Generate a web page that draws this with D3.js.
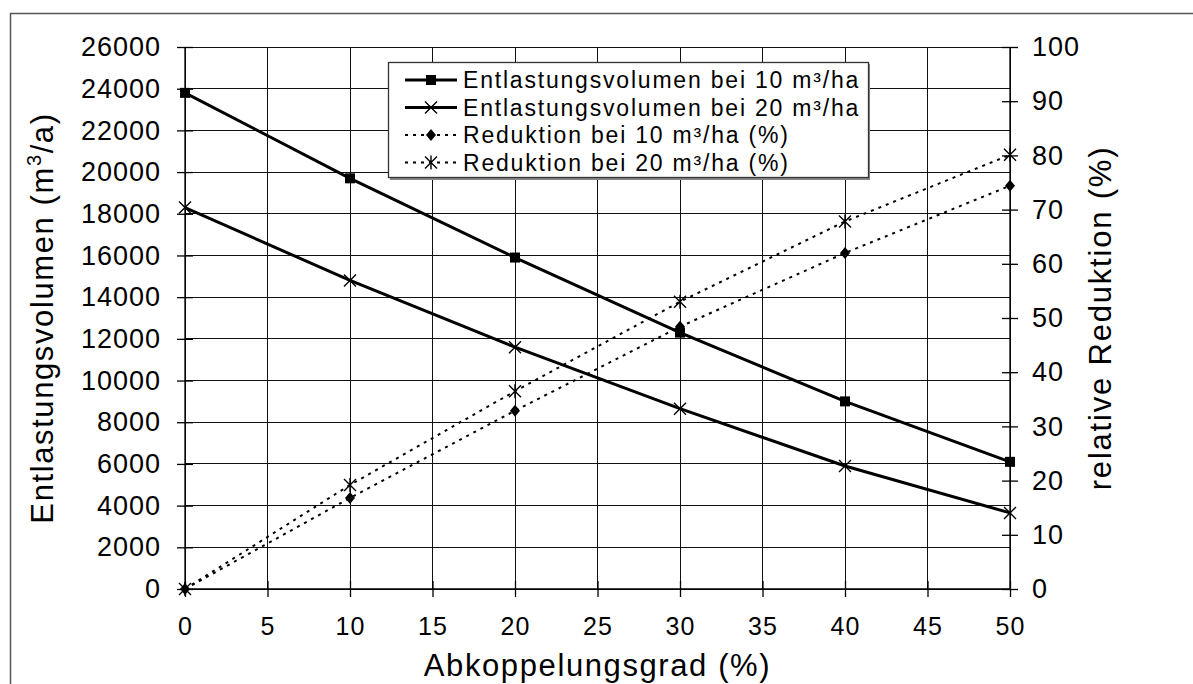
<!DOCTYPE html>
<html>
<head>
<meta charset="utf-8">
<script src="https://cdn.jsdelivr.net/npm/d3@7"></script>
<style>
  html, body { margin: 0; padding: 0; background: #fff; }
  svg { display: block; font-family: "Liberation Sans", Arial, sans-serif; }
</style>
</head>
<body>
<svg id="chart" width="1193" height="684"></svg>
<script>
// Abkoppelungsgrad (%) on the x axis
const abkoppelung = [0, 10, 20, 30, 40, 50];
// Entlastungsvolumen (m³/a)
const vol10 = [23800, 19700, 15900, 12300, 9000, 6100];
const vol20 = [18300, 14800, 11600, 8650, 5900, 3650];
// relative Reduktion (%)
const red10 = [0, 16.8, 32.9, 48.4, 62.0, 74.4];
const red20 = [0, 19.2, 36.5, 53.0, 67.8, 80.1];

const xTicks = [0, 5, 10, 15, 20, 25, 30, 35, 40, 45, 50];
const yLeftTicks = [0, 2000, 4000, 6000, 8000, 10000, 12000, 14000, 16000, 18000, 20000, 22000, 24000, 26000];
const yRightTicks = [0, 10, 20, 30, 40, 50, 60, 70, 80, 90, 100];

const legendLabels = [
  "Entlastungsvolumen bei 10 m³/ha",
  "Entlastungsvolumen bei 20 m³/ha",
  "Reduktion bei 10 m³/ha (%)",
  "Reduktion bei 20 m³/ha (%)"
];

const svg = d3.select("#chart");
const pLeft = 185, pRight = 1010, pTop = 47, pBottom = 589;

const x = d3.scaleLinear().domain([0, 50]).range([pLeft, pRight]);
const yL = d3.scaleLinear().domain([0, 26000]).range([pBottom, pTop]);
const yR = d3.scaleLinear().domain([0, 100]).range([pBottom, pTop]);

// outer frame
svg.append("rect")
  .attr("x", 10.5).attr("y", 13.5)
  .attr("width", 1200).attr("height", 700)
  .attr("fill", "none").attr("stroke", "#555").attr("stroke-width", 1.5);

// grid
const grid = svg.append("g").attr("stroke", "#111").attr("stroke-width", 1).attr("shape-rendering", "crispEdges");
grid.selectAll("line.v").data(xTicks).join("line").attr("class", "v")
  .attr("x1", d => x(d)).attr("x2", d => x(d))
  .attr("y1", pTop).attr("y2", pBottom);
grid.selectAll("line.h").data(yLeftTicks).join("line").attr("class", "h")
  .attr("x1", pLeft).attr("x2", pRight)
  .attr("y1", d => yL(d)).attr("y2", d => yL(d));

const tickFont = 27;

// left axis
const gL = svg.append("g").attr("transform", `translate(${pLeft},0)`)
  .call(d3.axisLeft(yL).tickValues(yLeftTicks).tickFormat(d3.format("d")).tickSize(8).tickPadding(16));
gL.selectAll(".tick line").attr("x1", 8);
gL.selectAll(".tick text").attr("font-size", tickFont).attr("font-family", "Liberation Sans, Arial").attr("fill", "#000").attr("letter-spacing", "1px");

// right axis
const gR = svg.append("g").attr("transform", `translate(${pRight},0)`)
  .call(d3.axisRight(yR).tickValues(yRightTicks).tickSize(8).tickPadding(14));
gR.selectAll(".tick line").attr("x1", -8);
gR.selectAll(".tick text").attr("font-size", tickFont).attr("font-family", "Liberation Sans, Arial").attr("fill", "#000").attr("letter-spacing", "1px");

// bottom axis
const gB = svg.append("g").attr("transform", `translate(0,${pBottom})`)
  .call(d3.axisBottom(x).tickValues(xTicks).tickSize(8).tickPadding(20));
gB.selectAll(".tick line").attr("y1", -8);
gB.selectAll(".tick text").attr("font-size", 25).attr("font-family", "Liberation Sans, Arial").attr("fill", "#000").attr("letter-spacing", "1px");

[gL, gR, gB].forEach(g => {
  g.selectAll(".domain").attr("stroke", "#000").attr("stroke-width", 1.3);
  g.selectAll(".tick line").attr("stroke", "#000").attr("stroke-width", 1.3);
});
gL.select(".domain").attr("d", `M0,${pBottom}V${pTop}`);
gR.select(".domain").attr("d", `M0,${pBottom}V${pTop}`);
gB.select(".domain").attr("d", `M${pLeft},0H${pRight}`);

// axis titles
const titleFont = 31;
svg.append("text")
  .attr("x", (pLeft + pRight) / 2).attr("y", 676)
  .attr("text-anchor", "middle").attr("font-size", titleFont).attr("letter-spacing", "1.6px")
  .text("Abkoppelungsgrad (%)");

const lt = svg.append("text")
  .attr("transform", "translate(53,318) rotate(-90)")
  .attr("text-anchor", "middle").attr("font-size", titleFont).attr("letter-spacing", "1.6px");
lt.append("tspan").text("Entlastungsvolumen (m");
lt.append("tspan").attr("font-size", 20).attr("dy", -12).text("3");
lt.append("tspan").attr("dy", 12).text("/a)");

svg.append("text")
  .attr("transform", "translate(1111,318) rotate(-90)")
  .attr("text-anchor", "middle").attr("font-size", titleFont).attr("letter-spacing", "1.8px")
  .text("relative Reduktion (%)");

// markers
function drawMarker(g, type, cx, cy) {
  if (type === "square") {
    g.append("rect").attr("x", cx - 5).attr("y", cy - 5).attr("width", 10).attr("height", 10).attr("fill", "#000");
  } else if (type === "diamond") {
    g.append("path").attr("d", `M${cx},${cy - 6}L${cx + 5},${cy}L${cx},${cy + 6}L${cx - 5},${cy}Z`).attr("fill", "#000");
  } else if (type === "cross") {
    g.append("path").attr("d", `M${cx - 6},${cy - 6}L${cx + 6},${cy + 6}M${cx - 6},${cy + 6}L${cx + 6},${cy - 6}`)
      .attr("stroke", "#000").attr("stroke-width", 1.4).attr("fill", "none");
  } else if (type === "star") {
    g.append("path").attr("d", `M${cx - 6},${cy - 6}L${cx + 6},${cy + 6}M${cx - 6},${cy + 6}L${cx + 6},${cy - 6}M${cx},${cy - 7}L${cx},${cy + 7}`)
      .attr("stroke", "#000").attr("stroke-width", 1.4).attr("fill", "none");
  }
}

const series = [
  { values: vol10, scale: yL, dash: null, width: 3, marker: "square" },
  { values: vol20, scale: yL, dash: null, width: 3, marker: "cross" },
  { values: red10, scale: yR, dash: "3,5", width: 2, marker: "diamond" },
  { values: red20, scale: yR, dash: "3,5", width: 2, marker: "star" }
];

const plot = svg.append("g");
series.forEach(s => {
  const pts = abkoppelung.map((a, i) => [a, s.values[i]]);
  const line = d3.line().x(d => x(d[0])).y(d => s.scale(d[1]));
  plot.append("path").datum(pts).attr("d", line)
    .attr("fill", "none").attr("stroke", "#000").attr("stroke-width", s.width)
    .attr("stroke-dasharray", s.dash);
  const mg = plot.append("g");
  pts.forEach(p => drawMarker(mg, s.marker, x(p[0]), s.scale(p[1])));
});

// legend
const lg = svg.append("g");
lg.append("rect").attr("x", 390).attr("y", 64).attr("width", 480).attr("height", 116).attr("fill", "#888");
lg.append("rect").attr("x", 388.5).attr("y", 62.5).attr("width", 480).attr("height", 115)
  .attr("fill", "#fff").attr("stroke", "#333").attr("stroke-width", 1.3);
series.forEach((s, i) => {
  const cy = 80 + i * 27.5;
  lg.append("line").attr("x1", 405).attr("x2", 457).attr("y1", cy).attr("y2", cy)
    .attr("stroke", "#000").attr("stroke-width", s.width).attr("stroke-dasharray", s.dash);
  drawMarker(lg, s.marker, 431, cy);
  lg.append("text").attr("x", 463).attr("y", cy).attr("dy", "0.36em")
    .attr("font-size", 23).attr("letter-spacing", "1.8px").text(legendLabels[i]);
});
</script>
</body>
</html>
